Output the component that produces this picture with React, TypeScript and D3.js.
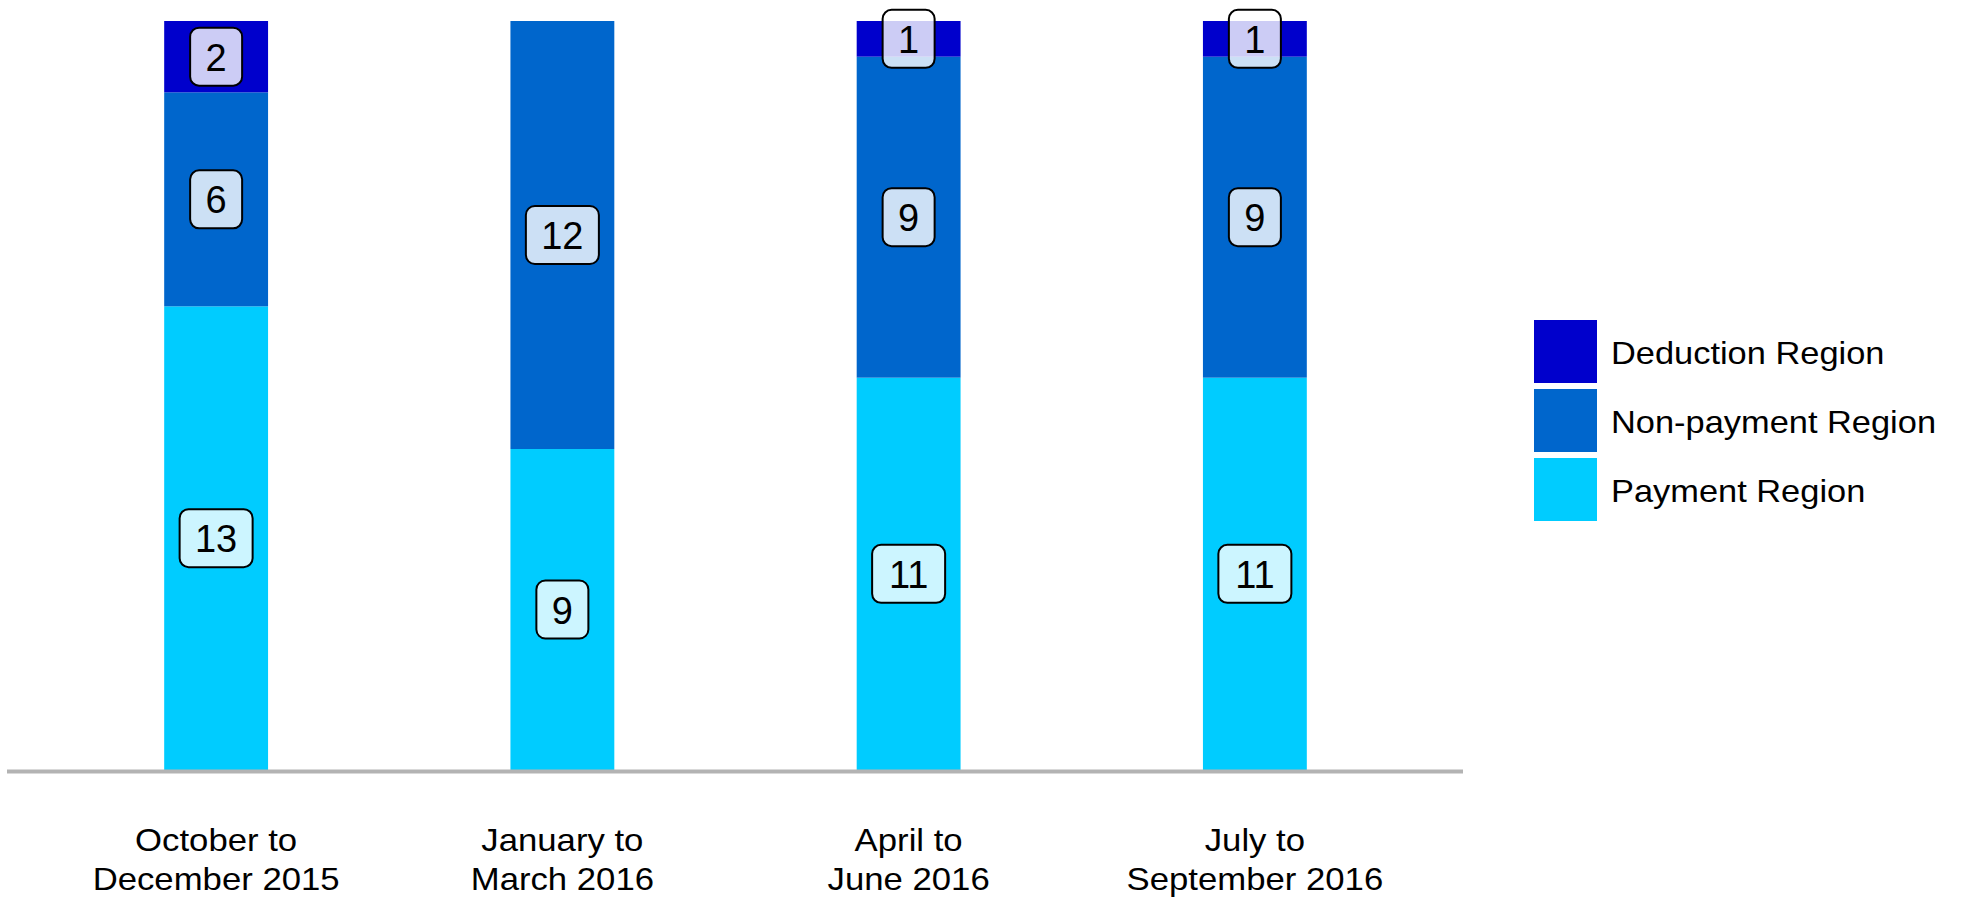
import React from "react";
import * as d3 from "d3";

const categories = [
  ["October to", "December 2015"],
  ["January to", "March 2016"],
  ["April to", "June 2016"],
  ["July to", "September 2016"],
];
const seriesNames = ["Payment Region", "Non-payment Region", "Deduction Region"];
const payment = [13, 9, 11, 11];
const nonPayment = [6, 12, 9, 9];
const deduction = [2, 0, 1, 1];
const colors = ["#00CCFF", "#0066CC", "#0000CC"];

const W = 1962;
const H = 899;
const FONT = "'Liberation Sans', Arial, Helvetica, sans-serif";

const App = () => {
  const keys = categories.map((c) => c.join(" "));
  const rows = keys.map((k, i) => ({
    key: k,
    s0: payment[i],
    s1: nonPayment[i],
    s2: deduction[i],
  }));
  const stack = d3.stack<any>().keys(["s0", "s1", "s2"])(rows);

  const x = d3
    .scaleBand()
    .domain(keys)
    .range([43, 1428])
    .paddingInner(0.7)
    .paddingOuter(0.35);
  const y = d3.scaleLinear().domain([0, 21]).range([770, 21]);

  // legend goes top to bottom: deduction, non-payment, payment
  const legendOrder = [2, 1, 0];

  return (
    <>
      <style>{`body{margin:0;overflow:hidden}`}</style>
      <svg width={W} height={H} style={{ display: "block", background: "#fff" }}>
        {stack.map((layer, si) => (
          <g key={si} fill={colors[si]}>
            {layer.map((d, i) =>
              d[1] - d[0] > 0 ? (
                <rect
                  key={i}
                  x={x(keys[i])}
                  y={y(d[1])}
                  width={x.bandwidth()}
                  height={y(d[0]) - y(d[1])}
                />
              ) : null
            )}
          </g>
        ))}

        {/* value boxes */}
        {stack.map((layer, si) => (
          <g key={"lab" + si}>
            {layer.map((d, i) => {
              const v = d[1] - d[0];
              if (v <= 0) return null;
              const cx = x(keys[i])! + x.bandwidth() / 2;
              const cy = (y(d[0]) + y(d[1])) / 2;
              const txt = String(v);
              const bw = txt.length * 21 + 31;
              const bh = 58;
              return (
                <g key={i}>
                  <rect
                    x={cx - bw / 2}
                    y={cy - bh / 2}
                    width={bw}
                    height={bh}
                    rx={9}
                    fill="#fff"
                    fillOpacity={0.8}
                    stroke="#000"
                    strokeWidth={2}
                  />
                  <text
                    x={cx}
                    y={cy + 14}
                    textAnchor="middle"
                    fontFamily={FONT}
                    fontSize={38}
                    fill="#000"
                  >
                    {txt}
                  </text>
                </g>
              );
            })}
          </g>
        ))}

        {/* baseline */}
        <line x1={7} x2={1463} y1={771.5} y2={771.5} stroke="#b3b3b3" strokeWidth={4} />

        {/* category labels */}
        {categories.map((lines, i) => {
          const cx = x(keys[i])! + x.bandwidth() / 2;
          return (
            <g key={"cat" + i} transform={`translate(${cx},0) scale(1.12,1)`}>
              {lines.map((ln, j) => (
                <text
                  key={j}
                  x={0}
                  y={851 + j * 39}
                  textAnchor="middle"
                  fontFamily={FONT}
                  fontSize={31}
                  fill="#000"
                >
                  {ln}
                </text>
              ))}
            </g>
          );
        })}

        {/* legend */}
        {legendOrder.map((si, j) => (
          <g key={"leg" + si} transform={`translate(1534,${320 + j * 69})`}>
            <rect width={63} height={63} fill={colors[si]} />
            <text
              transform="translate(77,43.5) scale(1.11,1)"
              fontFamily={FONT}
              fontSize={31}
              fill="#000"
            >
              {seriesNames[si]}
            </text>
          </g>
        ))}
      </svg>
    </>
  );
};

export default App;
